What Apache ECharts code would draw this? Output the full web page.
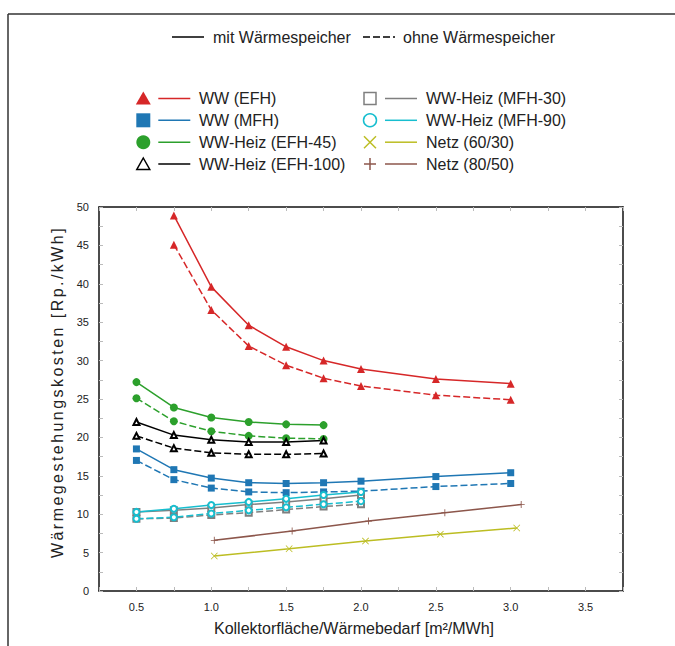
<!DOCTYPE html>
<html>
<head>
<meta charset="utf-8">
<script src="https://cdn.jsdelivr.net/npm/echarts@6/dist/echarts.min.js"></script>
<style>html,body{margin:0;padding:0;background:#fff}#c{width:675px;height:646px}</style>
</head>
<body>
<div id="c"></div>
<script>
// ---------- data ----------
const wwEfhX    = [0.75, 1.0, 1.25, 1.5, 1.75, 2.0, 2.5, 3.0];
const wwEfhMit  = [48.9, 39.6, 34.6, 31.8, 30.0, 28.9, 27.6, 27.0];
const wwEfhOhne = [45.1, 36.6, 31.9, 29.4, 27.7, 26.7, 25.5, 24.9];

const wwMfhX    = [0.5, 0.75, 1.0, 1.25, 1.5, 1.75, 2.0, 2.5, 3.0];
const wwMfhMit  = [18.5, 15.8, 14.7, 14.1, 14.0, 14.1, 14.3, 14.9, 15.4];
const wwMfhOhne = [17.0, 14.5, 13.4, 12.9, 12.8, 12.9, 13.0, 13.6, 14.0];

const efhX       = [0.5, 0.75, 1.0, 1.25, 1.5, 1.75];
const efh45Mit   = [27.2, 23.9, 22.6, 22.0, 21.7, 21.6];
const efh45Ohne  = [25.1, 22.1, 20.8, 20.2, 19.9, 19.8];
const efh100Mit  = [22.0, 20.3, 19.7, 19.4, 19.4, 19.6];
const efh100Ohne = [20.2, 18.6, 18.0, 17.8, 17.8, 17.9];

const mfhX      = [0.5, 0.75, 1.0, 1.25, 1.5, 1.75, 2.0];
const mfh30Mit  = [10.3, 10.5, 10.8, 11.25, 11.6, 12.0, 12.5];
const mfh30Ohne = [9.4, 9.5, 9.9, 10.2, 10.6, 11.0, 11.3];
const mfh90Mit  = [10.3, 10.7, 11.2, 11.6, 12.0, 12.5, 12.9];
const mfh90Ohne = [9.4, 9.6, 10.1, 10.5, 10.9, 11.3, 11.7];

const netz60X = [1.02, 1.52, 2.03, 2.53, 3.04];
const netz60  = [4.56, 5.5, 6.5, 7.4, 8.2];
const netz80X = [1.02, 1.54, 2.05, 2.56, 3.07];
const netz80  = [6.6, 7.8, 9.1, 10.2, 11.25];

const legendNames = ['WW (EFH)', 'WW (MFH)', 'WW-Heiz (EFH-45)', 'WW-Heiz (EFH-100)',
                     'WW-Heiz (MFH-30)', 'WW-Heiz (MFH-90)', 'Netz (60/30)', 'Netz (80/50)'];
const styleNames = ['mit Wärmespeicher', 'ohne Wärmespeicher'];
const xTitle = 'Kollektorfläche/Wärmebedarf [m²/MWh]';
const yTitle = 'Wärmegestehungskosten [Rp./kWh]';

// ---------- styling ----------
const FONT = 'Liberation Sans, Arial, sans-serif';
const C = {red:'#d62728', blue:'#1f77b4', green:'#2ca02c', black:'#000000',
           gray:'#7f7f7f', cyan:'#17becf', olive:'#bcbd22', brown:'#8c564b'};
const legendColors = [C.red, C.blue, C.green, C.black, C.gray, C.cyan, C.olive, C.brown];
const legendSyms = ['tri', 'sq', 'ci', 'triE', 'sqE', 'ciE', 'x', 'plus'];

const PLUS = 'path://M4.4,0 L5.6,0 L5.6,4.4 L10,4.4 L10,5.6 L5.6,5.6 L5.6,10 L4.4,10 L4.4,5.6 L0,5.6 L0,4.4 L4.4,4.4 Z';
const CROSS = 'path://M0.8,0 L5,4.2 L9.2,0 L10,0.8 L5.8,5 L10,9.2 L9.2,10 L5,5.8 L0.8,10 L0,9.2 L4.2,5 L0,0.8 Z';

const zip = (xs, ys) => xs.map((x, i) => [x, ys[i]]);

function mk(name, xs, ys, color, symbol, size, dashed, empty) {
  return {
    name: name, type: 'line', data: zip(xs, ys),
    symbol: symbol, symbolSize: size, showSymbol: true,
    lineStyle: {color: color, width: 1.5, type: dashed ? [7, 3] : 'solid'},
    itemStyle: {color: color, borderColor: color, borderWidth: empty ? 1.3 : 0},
    emphasis: {disabled: true}, animation: false
  };
}

const series = [
  mk('WW (EFH)', wwEfhX, wwEfhMit, C.red, 'triangle', 8, false),
  mk('WW (EFH) ohne', wwEfhX, wwEfhOhne, C.red, 'triangle', 8, true),
  mk('WW (MFH)', wwMfhX, wwMfhMit, C.blue, 'rect', 7, false),
  mk('WW (MFH) ohne', wwMfhX, wwMfhOhne, C.blue, 'rect', 7, true),
  mk('WW-Heiz (EFH-45)', efhX, efh45Mit, C.green, 'circle', 8, false),
  mk('WW-Heiz (EFH-45) ohne', efhX, efh45Ohne, C.green, 'circle', 8, true),
  mk('WW-Heiz (EFH-100)', efhX, efh100Mit, C.black, 'emptyTriangle', 6, false, true),
  mk('WW-Heiz (EFH-100) ohne', efhX, efh100Ohne, C.black, 'emptyTriangle', 6, true, true),
  mk('WW-Heiz (MFH-30)', mfhX, mfh30Mit, C.gray, 'emptyRect', 6, false, true),
  mk('WW-Heiz (MFH-30) ohne', mfhX, mfh30Ohne, C.gray, 'emptyRect', 6, true, true),
  mk('WW-Heiz (MFH-90)', mfhX, mfh90Mit, C.cyan, 'emptyCircle', 6, false, true),
  mk('WW-Heiz (MFH-90) ohne', mfhX, mfh90Ohne, C.cyan, 'emptyCircle', 6, true, true),
  mk('Netz (60/30)', netz60X, netz60, C.olive, CROSS, 7, false),
  mk('Netz (80/50)', netz80X, netz80, C.brown, PLUS, 7, false)
];

// ---------- legend (drawn as graphics) ----------
function marker(sym, cx, cy, color) {
  const fillS = {fill: color};
  const strokeS = {fill: 'none', stroke: color, lineWidth: 1.5};
  switch (sym) {
    case 'tri':  return {type:'polygon', shape:{points:[[cx,cy-7],[cx+7.5,cy+6],[cx-7.5,cy+6]]}, style:fillS};
    case 'triE': return {type:'polygon', shape:{points:[[cx,cy-6],[cx+6.5,cy+5.5],[cx-6.5,cy+5.5]]}, style:strokeS};
    case 'sq':   return {type:'rect', shape:{x:cx-7,y:cy-7,width:14,height:14}, style:fillS};
    case 'sqE':  return {type:'rect', shape:{x:cx-6,y:cy-6,width:12,height:12}, style:strokeS};
    case 'ci':   return {type:'circle', shape:{cx:cx,cy:cy,r:7}, style:fillS};
    case 'ciE':  return {type:'circle', shape:{cx:cx,cy:cy,r:6.5}, style:strokeS};
    case 'x':    return {type:'group', children:[
                   {type:'line', shape:{x1:cx-6,y1:cy-6,x2:cx+6,y2:cy+6}, style:strokeS},
                   {type:'line', shape:{x1:cx-6,y1:cy+6,x2:cx+6,y2:cy-6}, style:strokeS}]};
    case 'plus': return {type:'group', children:[
                   {type:'line', shape:{x1:cx-6,y1:cy,x2:cx+6,y2:cy}, style:strokeS},
                   {type:'line', shape:{x1:cx,y1:cy-6,x2:cx,y2:cy+6}, style:strokeS}]};
  }
}
const graphics = [];
// outer frame
graphics.push({type:'line', shape:{x1:8,y1:14,x2:675,y2:14}, style:{stroke:'#333',lineWidth:1.5}});
graphics.push({type:'line', shape:{x1:8,y1:14,x2:8,y2:646}, style:{stroke:'#333',lineWidth:1.5}});
// style legend
graphics.push({type:'line', shape:{x1:172,y1:37,x2:204,y2:37}, style:{stroke:'#000',lineWidth:1.5}});
graphics.push({type:'text', x:213, y:37, style:{text:styleNames[0], fontSize:16, fontFamily:FONT, fill:'#222', verticalAlign:'middle'}});
graphics.push({type:'line', shape:{x1:363,y1:37,x2:395,y2:37}, style:{stroke:'#000',lineWidth:1.5,lineDash:[7,3]}});
graphics.push({type:'text', x:403, y:37, style:{text:styleNames[1], fontSize:16, fontFamily:FONT, fill:'#222', verticalAlign:'middle'}});
// series legend
const rowY = [98.5, 120.3, 142.2, 164];
legendNames.forEach((n, i) => {
  const col = i < 4 ? 0 : 1, row = i % 4;
  const mx = col ? 370 : 143.3, lx = col ? 385 : 158.3, tx = col ? 426 : 199;
  const y = rowY[row];
  graphics.push(marker(legendSyms[i], mx, y, legendColors[i]));
  graphics.push({type:'line', shape:{x1:lx,y1:y,x2:lx+32,y2:y}, style:{stroke:legendColors[i],lineWidth:1.5}});
  graphics.push({type:'text', x:tx, y:y, style:{text:n, fontSize:16, fontFamily:FONT, fill:'#222', verticalAlign:'middle'}});
});

// ---------- axes ----------
const tickStyle = {show:true, inside:true, length:4, lineStyle:{color:'#bbbbbb', width:1}};
const lineStyleAx = {show:true, onZero:false, lineStyle:{color:'#111', width:1.5}};
const xLab = v => Math.abs(v * 2 - Math.round(v * 2)) < 1e-6 ? v.toFixed(1) : '';
const yLab = v => Math.abs(v / 5 - Math.round(v / 5)) < 1e-6 ? String(v) : '';

const option = {
  animation: false,
  backgroundColor: '#fff',
  grid: {left: 99, top: 207, width: 524, height: 384, containLabel: false},
  xAxis: [
    {type:'value', min:0.25, max:3.75, interval:0.25, position:'bottom',
     axisLine: lineStyleAx, axisTick: tickStyle, splitLine:{show:false},
     axisLabel:{formatter:xLab, fontSize:11, fontFamily:FONT, color:'#222', margin:10},
     name: xTitle, nameLocation:'middle', nameGap:29,
     nameTextStyle:{fontSize:16, fontFamily:FONT, color:'#222', padding:[0, 14, 0, 0]}},
    {type:'value', min:0.25, max:3.75, interval:0.25, position:'top',
     axisLine: lineStyleAx, axisTick: tickStyle, splitLine:{show:false}, axisLabel:{show:false}}
  ],
  yAxis: [
    {type:'value', min:0, max:50, interval:2.5, position:'left',
     axisLine: lineStyleAx, axisTick: tickStyle, splitLine:{show:false},
     axisLabel:{formatter:yLab, fontSize:11, fontFamily:FONT, color:'#222', margin:10},
     name: yTitle, nameLocation:'middle', nameGap:33, nameRotate:90,
     nameTextStyle:{fontSize:16, fontFamily:FONT, color:'#222', padding:[0, 0, 0, 14]}},
    {type:'value', min:0, max:50, interval:2.5, position:'right',
     axisLine: lineStyleAx, axisTick: tickStyle, splitLine:{show:false}, axisLabel:{show:false}}
  ],
  series: series,
  graphic: graphics
};
const chart = echarts.init(document.getElementById('c'), null, {renderer:'svg'});
chart.setOption(option);
// the reference typesets the y title with wider letter spacing
function spaceYTitle() {
  document.querySelectorAll('#c svg text').forEach(t => {
    if (t.textContent === yTitle) t.style.letterSpacing = '2.45px';
  });
}
spaceYTitle();
chart.on('finished', spaceYTitle);
</script>
</body>
</html>
